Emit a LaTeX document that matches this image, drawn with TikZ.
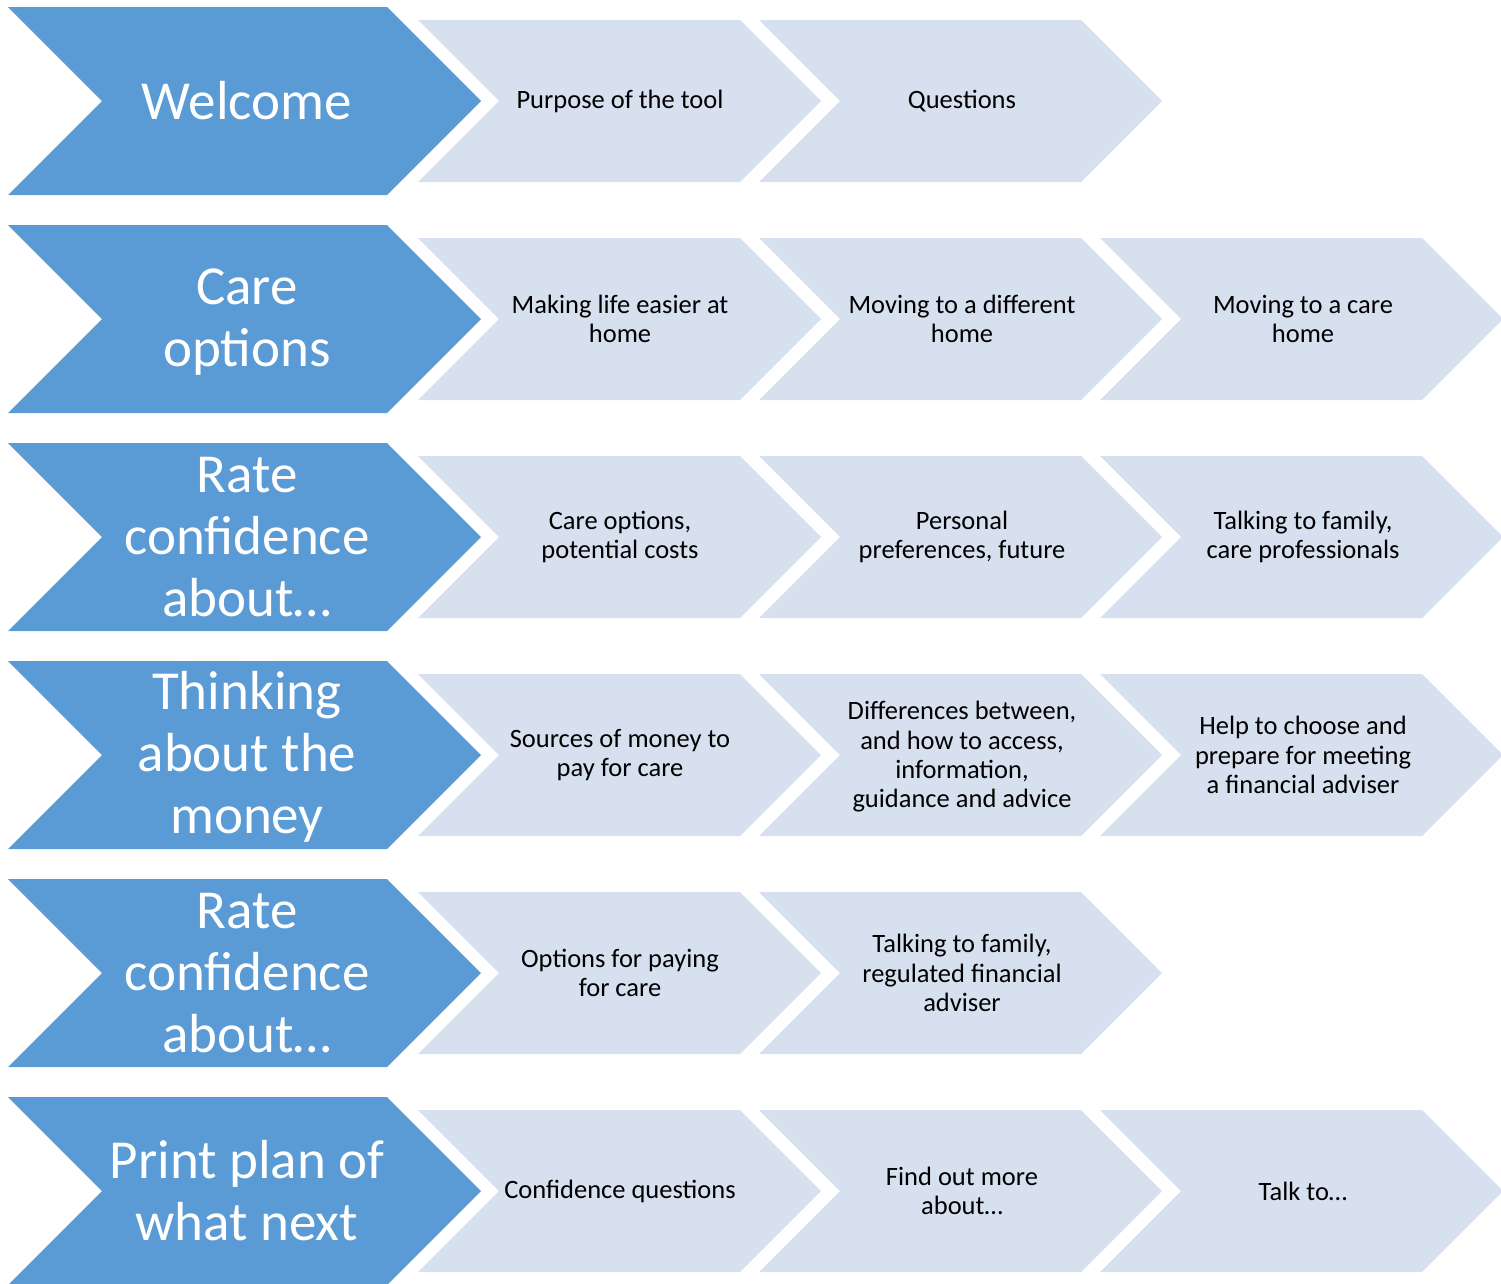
\documentclass[tikz,border=0pt]{standalone}
\usepackage{fontspec}
\setmainfont{Carlito}
\definecolor{darkchev}{HTML}{5B9BD5}
\definecolor{lightchev}{HTML}{D6E0EF}
\newcommand{\bigchevron}[1]{%
  \fill[darkchev] (8,#1-94) -- (387,#1-94) -- (481,#1) -- (387,#1+94) -- (8,#1+94) -- (102,#1) -- cycle;}
\newcommand{\smallchevron}[2]{%
  \fill[lightchev] (#1,#2-81) -- (#1+322,#2-81) -- (#1+403,#2) -- (#1+322,#2+81) -- (#1,#2+81) -- (#1+81,#2) -- cycle;}
\tikzset{
  bigtext/.style={text=white, align=center, font=\fontsize{55}{62}\selectfont, inner sep=0pt},
  smalltext/.style={text=black, align=center, font=\fontsize{26.5}{29.3}\selectfont, inner sep=0pt}
}
\begin{document}
\begin{tikzpicture}[x=1pt,y=-1pt]
\useasboundingbox (0,0) rectangle (1501,1283);
% chevrons
\foreach \cy in {101,319,537,755,973,1191} {\bigchevron{\cy}}
\foreach \cy in {101,319,537,755,973,1191} {\smallchevron{418}{\cy}\smallchevron{759}{\cy}}
\foreach \cy in {319,537,755,1191} {\smallchevron{1100}{\cy}}
% row 1
\node[bigtext] (b1) at (247,101) {Welcome};
\node[smalltext] (s11) at (620,101) {Purpose of the tool};
\node[smalltext] (s12) at (962,101) {Questions};
% row 2
\node[bigtext] (b2) at (247,322) {Care\\options};
\node[smalltext] (s21) at (620,319) {Making life easier at\\home};
\node[smalltext] (s22) at (962,319) {Moving to a different\\home};
\node[smalltext] (s23) at (1303,319) {Moving to a care\\home};
% row 3
\node[bigtext] (b3) at (247,537) {Rate\\confidence\\about…};
\node[smalltext] (s31) at (620,537) {Care options,\\potential costs};
\node[smalltext] (s32) at (962,537) {Personal\\preferences, future};
\node[smalltext] (s33) at (1303,537) {Talking to family,\\care professionals};
% row 4
\node[bigtext] (b4) at (247,757) {Thinking\\about the\\money};
\node[smalltext] (s41) at (620,755) {Sources of money to\\pay for care};
\node[smalltext] (s42) at (962,757) {Differences between,\\and how to access,\\information,\\guidance and advice};
\node[smalltext] (s43) at (1303,755) {Help to choose and\\prepare for meeting\\a financial adviser};
% row 5
\node[bigtext] (b5) at (247,973) {Rate\\confidence\\about…};
\node[smalltext] (s51) at (620,973) {Options for paying\\for care};
\node[smalltext] (s52) at (962,973) {Talking to family,\\regulated financial\\adviser};
% row 6
\node[bigtext] (b6) at (247,1191) {Print plan of\\what next};
\node[smalltext] (s61) at (620,1191) {Confidence questions};
\node[smalltext] (s62) at (962,1191) {Find out more\\about…};
\node[smalltext] (s63) at (1303,1191) {Talk to…};
\end{tikzpicture}
\end{document}
